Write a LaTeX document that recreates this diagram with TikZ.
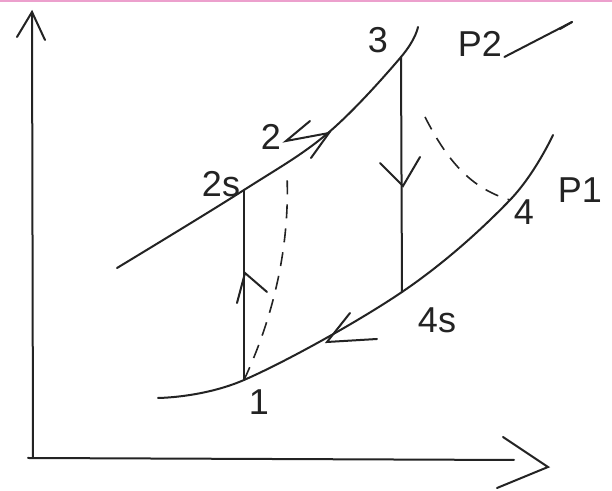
\documentclass[tikz,border=0pt]{standalone}
\usepackage{fontspec}
\setmainfont{Liberation Sans}
\usetikzlibrary{arrows.meta}
\definecolor{ink}{RGB}{35,35,35}
\definecolor{edgepink}{RGB}{236,160,205}
\begin{document}
\begin{tikzpicture}[x=0.5pt,y=-0.5pt,
  curve/.style={draw=ink,line width=1pt,line cap=round,line join=round},
  barb/.style={draw=ink,line width=1pt,line cap=round,line join=miter},
  dashcurve/.style={draw=ink,line width=0.8pt,dash pattern=on 7pt off 5pt},
  lbl/.style={text=ink,inner sep=0pt,font=\fontsize{18}{20}\selectfont}]
\useasboundingbox (0,0) rectangle (612,491);
\fill[white] (0,0) rectangle (612,491);
\draw[edgepink,line width=1pt] (0,1) -- (612,1);
% axes
\coordinate (o) at (33,458);
\coordinate (ytop) at (32,12);
\coordinate (xend) at (514,460);
\draw[curve] (o) -- (ytop);
\draw[barb] (17,37) -- (ytop) -- (45,40);
\draw[curve] (28,458) -- (xend);
\coordinate (chevA) at (503,437);
\coordinate (chevB) at (548,467);
\coordinate (chevC) at (497,488);
\draw[barb] (chevA) -- (chevB) -- (chevC);
% state points
\coordinate (p1) at (244,380);
\coordinate (p2s) at (244,190);
\coordinate (p2) at (287,175);
\coordinate (p3) at (401,57);
\coordinate (p4s) at (402,292);
\coordinate (p4) at (510,200);
% pressure lines
\draw[curve] plot[smooth,tension=0.6] coordinates {(117,268) (p2s) (328,133) (p3) (418,27)};
\draw[curve] plot[smooth,tension=0.6] coordinates {(158,398) (p1) (p4s) (p4) (553,135)};
% processes
\draw[curve] (p1) -- (p2s);
\draw[barb] (237,303) -- (245,273) -- (267,292);
\draw[curve] (p3) -- (p4s);
\draw[barb] (380,163) -- (403,186) -- (420,157);
\draw[barb] (350,313) -- (327,342) -- (377,339);
\draw[barb] (310,121) -- (286,141) -- (329,133) -- (311,158);
\draw[dashcurve] (p1) .. controls (272,320) and (290,250) .. (p2);
\coordinate (d3) at (425,117);
\draw[dashcurve] (d3) .. controls (447,160) and (470,188) .. (p4);
% labels
\node[lbl] (l1) at (259,402) {1};
\node[lbl] (l2s) at (221,184) {2s};
\node[lbl] (l2) at (271,137) {2};
\node[lbl] (l3) at (378,40) {3};
\node[lbl] (l4s) at (437,320) {4s};
\node[lbl] (l4) at (524,212) {4};
\node[lbl] (lP2) at (480,44) {P2};
\node[lbl] (lP1) at (580,190) {P1};
\coordinate (pend) at (572,22);
\draw[curve] (lP2.south east) ++(2,0) -- (pend);
\draw[barb] (560,29) -- (pend);
\end{tikzpicture}
\end{document}
